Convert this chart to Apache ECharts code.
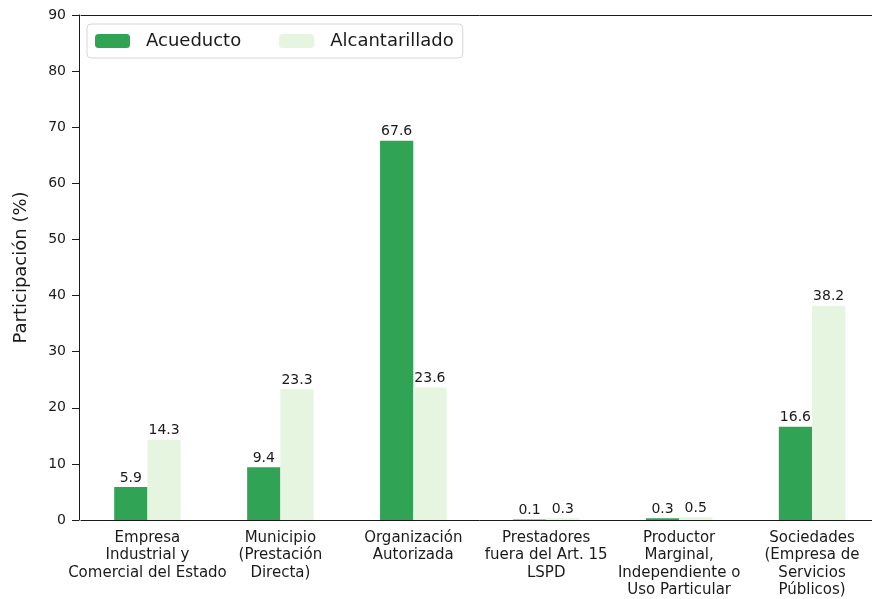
<!DOCTYPE html>
<html>
<head>
<meta charset="utf-8">
<script src="https://cdn.jsdelivr.net/npm/echarts@6/dist/echarts.min.js"></script>
<style>
  html, body { margin: 0; padding: 0; background: #fff; overflow: hidden; }
  /* a bit wider than the window: the original plot is cut at its right edge */
  #chart { width: 880px; height: 599px; }
</style>
</head>
<body>
<div id="chart"></div>
<script>
const categories = [
  'Empresa\nIndustrial y\nComercial del Estado',
  'Municipio\n(Prestación\nDirecta)',
  'Organización\nAutorizada',
  'Prestadores\nfuera del Art. 15\nLSPD',
  'Productor\nMarginal,\nIndependiente o\nUso Particular',
  'Sociedades\n(Empresa de\nServicios\nPúblicos)'
]
const acueducto = [5.9, 9.4, 67.6, 0.1, 0.3, 16.6]
const alcantarillado = [14.3, 23.3, 23.6, 0.3, 0.5, 38.2]
const yTicks = { min: 0, max: 90, interval: 10 }

const font = 'DejaVu Sans'
const ink = '#1a1a1a'
const myChart = echarts.init(document.getElementById('chart'))

const barLabel = {
  show: true,
  position: 'top',
  distance: 2,
  fontFamily: font,
  fontSize: 14,
  color: ink,
  formatter: p => p.value.toFixed(1)
}

const option = {
  animation: false,
  textStyle: { fontFamily: font },
  grid: {
    left: 81,
    right: 1.5,
    top: 15,
    bottom: 78
  },
  legend: {
    left: 87,
    top: 24,
    itemWidth: 35,
    itemHeight: 14,
    itemGap: 38,
    padding: [8, 9, 8, 8],
    borderColor: '#d6d6d6',
    borderWidth: 1,
    borderRadius: 4,
    textStyle: { fontFamily: font, fontSize: 18, color: ink, padding: [0, 0, 0, 11] },
    data: ['Acueducto', 'Alcantarillado']
  },
  xAxis: [
    {
      type: 'category',
      data: categories,
      axisLine: { lineStyle: { color: ink } },
      axisTick: { alignWithLabel: true, length: 6, lineStyle: { color: ink } },
      axisLabel: {
        interval: 0,
        fontFamily: font,
        fontSize: 15,
        lineHeight: 17.5,
        color: ink,
        margin: 9
      }
    },
    {
      // top spine only
      type: 'category',
      position: 'top',
      data: categories,
      axisLine: { lineStyle: { color: ink } },
      axisTick: { show: false },
      axisLabel: { show: false }
    }
  ],
  yAxis: {
    type: 'value',
    min: yTicks.min,
    max: yTicks.max,
    interval: yTicks.interval,
    offset: 2,
    name: 'Participación (%)',
    nameLocation: 'middle',
    nameGap: 49,
    nameTextStyle: { fontFamily: font, fontSize: 18, color: ink },
    splitLine: { show: false },
    axisLine: { show: true, lineStyle: { color: ink } },
    axisTick: { show: true, length: 7, lineStyle: { color: ink } },
    axisLabel: { fontFamily: font, fontSize: 14, color: ink, margin: 13 }
  },
  series: [
    {
      name: 'Acueducto',
      type: 'bar',
      data: acueducto,
      barWidth: '25%',
      barGap: '0%',
      itemStyle: { color: '#31a354' },
      label: barLabel
    },
    {
      name: 'Alcantarillado',
      type: 'bar',
      data: alcantarillado,
      barWidth: '25%',
      itemStyle: { color: '#e5f5e0' },
      label: barLabel
    }
  ]
}
myChart.setOption(option)
</script>
</body>
</html>
